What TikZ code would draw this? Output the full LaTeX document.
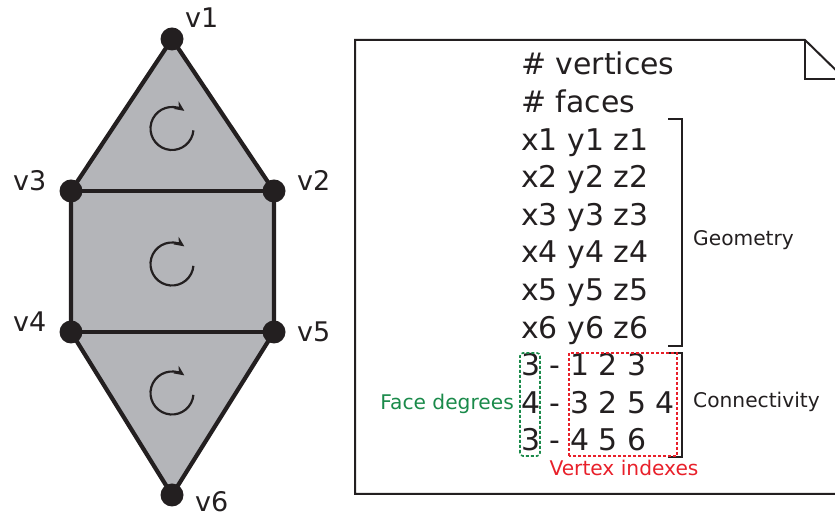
\documentclass[tikz,border=0pt]{standalone}
\usepackage{fontspec}
\setmainfont{DejaVu Sans}
\usepackage{xcolor}
\usepackage{tikz}
\usetikzlibrary{positioning,arrows.meta,backgrounds}

\definecolor{meshgray}{HTML}{B4B5B9}
\definecolor{inkgray}{HTML}{231F20}
\definecolor{degreegreen}{HTML}{1A8A4A}
\definecolor{indexred}{HTML}{E8202A}

\begin{document}
\begin{tikzpicture}[
  x=1pt,y=1pt,
  vert/.style={circle,fill=inkgray,inner sep=0pt,minimum size=23pt},
  vlab/.style={anchor=base west,inner sep=0pt,font=\fontsize{27}{30}\selectfont,text=inkgray},
  edge/.style={draw=inkgray,line width=4.2pt},
  turn/.style={draw=inkgray,line width=2.2pt,-{Stealth[length=10pt,width=9pt]}},
  rec/.style={anchor=base west,inner sep=0pt,font=\fontsize{29.9}{34}\selectfont,text=inkgray},
  note/.style={anchor=base west,inner sep=0pt,font=\fontsize{20.2}{24}\selectfont,text=inkgray},
  brack/.style={draw=inkgray,line width=2.2pt},
  >=Latex]
  \clip (0,0) rectangle (835,518);
  \useasboundingbox (0,0) rectangle (835,518);

  % mesh
  \node (v1) [vert] at (172,479) {};
  \node (v2) [vert] at (274,327) {};
  \node (v3) [vert] at (71,327) {};
  \node (v4) [vert] at (71,186) {};
  \node (v5) [vert] at (274,186) {};
  \node (v6) [vert] at (172,23) {};
  \begin{scope}[on background layer]
    \fill[meshgray] (v1.center) -- (v2.center) -- (v5.center) -- (v6.center) -- (v4.center) -- (v3.center) -- cycle;
    \draw[edge] (v1.center) -- (v2.center) -- (v5.center) -- (v6.center) -- (v4.center) -- (v3.center) -- cycle;
    \draw[edge] (v3.center) -- (v2.center);
    \draw[edge] (v4.center) -- (v5.center);
  \end{scope}
  \node (l1) [vlab] at (185,490) {v1};
  \node (l2) [vlab] at (297,327) {v2};
  \node (l3) [vlab] at (13,327) {v3};
  \node (l4) [vlab] at (13,186) {v4};
  \node (l5) [vlab] at (297,176) {v5};
  \node (l6) [vlab] at (195,6) {v6};

  % face orientation
  \coordinate (f1) at (172,389.5);
  \coordinate (f2) at (172,254);
  \coordinate (f3) at (172,125);
  \foreach \f in {f1,f2,f3}
    \draw[turn] ([shift={(-5:21.5)}]\f) arc[start angle=-5,end angle=-305,radius=21.5];

  % file
  \draw[draw=inkgray,line width=2pt] (845,439) -- (845,24) -- (355,24) -- (355,478) -- (805,478) -- (845,439);
  \draw[draw=inkgray,line width=2pt] (805,478) -- (805,439) -- (845,439);

  \node (nv) [rec] at (521,443) {\# vertices};
  \node (nf) [rec] at (521,405.4) {\# faces};
  \node (p1) [rec] at (521,367.8) {x1 y1 z1};
  \node (p2) [rec] at (521,330.2) {x2 y2 z2};
  \node (p3) [rec] at (521,292.6) {x3 y3 z3};
  \node (p4) [rec] at (521,255) {x4 y4 z4};
  \node (p5) [rec] at (521,217.4) {x5 y5 z5};
  \node (p6) [rec] at (521,179.8) {x6 y6 z6};
  \node (c1) [rec] at (521,142.2) {3 - 1 2 3};
  \node (c2) [rec] at (521,104.6) {4 - 3 2 5 4};
  \node (c3) [rec] at (521,67) {3 - 4 5 6};

  \draw[brack] (668,399) -- (682,399) -- (682,172) -- (668,172);
  \node (geo) [note] at (693,272) {Geometry};
  \draw[brack] (668,165) -- (682,165) -- (682,61) -- (668,61);
  \node (con) [note] at (693,110) {Connectivity};

  \draw[degreegreen,line width=1.6pt,dash pattern=on 3pt off 2pt,rounded corners=3pt] (520,62) rectangle (540,165);
  \node (deg) [note,anchor=base east,text=degreegreen] at (514,108) {Face degrees};
  \draw[indexred,line width=1.6pt,dash pattern=on 3pt off 2pt] (569,62) rectangle (677,165);
  \node (idx) [note,anchor=base,text=indexred] at (624,42) {Vertex indexes};
\end{tikzpicture}
\end{document}
